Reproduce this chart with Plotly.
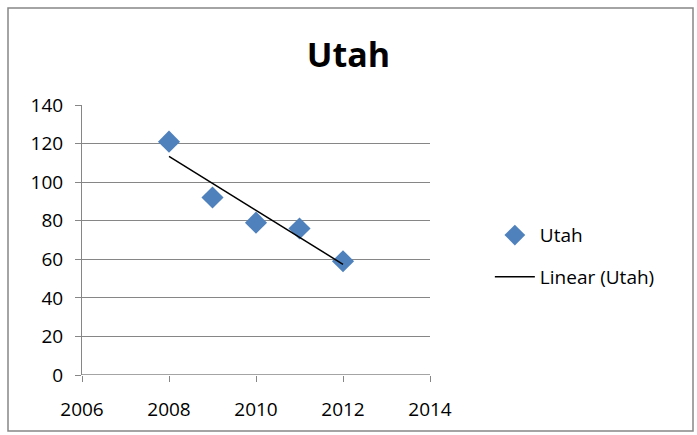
import numpy as np
import plotly.graph_objects as go

years = [2008, 2009, 2010, 2011, 2012]
utah = [121, 92, 79, 76, 59]

# linha de tendência linear (como o Excel faz)
slope, intercept = np.polyfit(years, utah, 1)
trend_x = [years[0], years[-1]]
trend_y = [slope * x + intercept for x in trend_x]

fig = go.Figure()

fig.add_trace(go.Scatter(
    x=years, y=utah, mode='markers', name='Utah', legendgroup='a',
    marker=dict(symbol='diamond', size=17, color='#4F81BD',
                line=dict(width=0)),
))
fig.add_trace(go.Scatter(
    x=trend_x, y=trend_y, mode='lines', name='Linear (Utah)', legendgroup='b',
    line=dict(color='black', width=1.5),
))

grid = '#868686'
fig.update_layout(
    width=697, height=435,
    margin=dict(l=82, r=267, t=105, b=60),
    paper_bgcolor='white', plot_bgcolor='white',
    font=dict(family='Open Sans', size=19, color='black'),
    title=dict(text='<b>Utah</b>', x=0.5, xanchor='center', y=1 - 55 / 435,
               yanchor='middle', font=dict(size=34, family='Open Sans')),
    showlegend=True,
    legend=dict(x=1.172, xanchor='left', y=0.44, yanchor='middle',
                traceorder='grouped', tracegroupgap=14, itemwidth=40,
                font=dict(size=19), bgcolor='rgba(0,0,0,0)'),
    xaxis=dict(range=[2006, 2014], dtick=2, tick0=2006, showgrid=False,
               zeroline=False, showline=False, ticks='outside', ticklen=6,
               tickcolor=grid, ticklabelstandoff=11),
    yaxis=dict(range=[0, 140], dtick=20, showgrid=True, gridcolor=grid,
               gridwidth=1, zeroline=False, showline=True, linecolor=grid,
               linewidth=1, ticks='outside', ticklen=6, tickcolor=grid,
               ticklabelstandoff=8),
    shapes=[
        # borda externa do gráfico
        dict(type='rect', xref='paper', yref='paper',
             x0=(8 - 82) / 348, x1=(693 - 82) / 348,
             y0=(375 - 431) / 270, y1=(375 - 8) / 270,
             line=dict(color='#868686', width=1.5), layer='below'),
        # linha do eixo x em zero
        dict(type='line', xref='paper', yref='y', x0=0, x1=1, y0=0, y1=0,
             line=dict(color=grid, width=1.5)),
    ],
)

# tira a margem padrão do body para a figura começar em (0, 0)
fig.write_html("out.html", config={'displayModeBar': False},
               post_script="document.body.style.margin='0';")
